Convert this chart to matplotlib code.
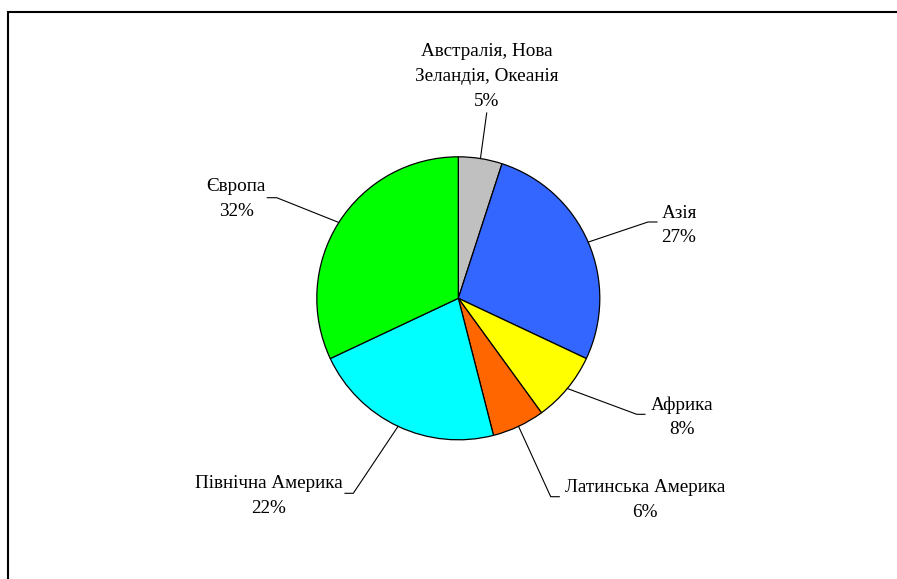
import numpy as np
import matplotlib.pyplot as plt
from matplotlib.patches import Rectangle

# data
regions = [["Австралія, Нова", "Зеландія, Океанія"], ["Азія"], ["Африка"],
           ["Латинська Америка"], ["Північна Америка"], ["Європа"]]
shares = [5, 27, 8, 6, 22, 32]
colors = ["#C0C0C0", "#3366FF", "#FFFF00", "#FF6600", "#00FFFF", "#00FF00"]

W, H = 897, 579
fig = plt.figure(figsize=(W / 100, H / 100), dpi=100)
ax = fig.add_axes([0, 0, 1, 1])

cx, cy, r = 458.3, H - 298.3, 141.5
wedges, _ = ax.pie(shares, colors=colors, startangle=90, counterclock=False,
                   center=(cx, cy), radius=r,
                   wedgeprops=dict(edgecolor="black", linewidth=0.9))
ax.set_xlim(0, W)
ax.set_ylim(0, H)
ax.set_aspect("auto")
ax.axis("off")

# label layout (pixels from top-left): text centre x, first line y, elbow, tail end
lab_x = [487, 679, 682, 645, 269, 236]
lab_y = [50, 211.5, 403.5, 486, 482, 185]
step = 25
elbow = [(486.7, 113), (648, 222), (636.7, 414.3), (550.7, 496.7), (353.3, 493.3), (276.7, 197.7)]
tail = [None, (657, 222), (645, 414.3), (559.3, 496.7), (345, 493.3), (267.3, 197.7)]

for i, w in enumerate(wedges):
    ang = np.deg2rad((w.theta1 + w.theta2) / 2)
    ex, ey = cx + r * np.cos(ang), cy + r * np.sin(ang)
    xs = [ex, elbow[i][0]]
    ys = [ey, H - elbow[i][1]]
    if tail[i] is not None:
        xs.append(tail[i][0])
        ys.append(H - tail[i][1])
    ax.plot(xs, ys, color="black", linewidth=0.8)
    lines = regions[i] + [str(shares[i]) + "%"]
    for j, s in enumerate(lines):
        ax.text(lab_x[i], H - (lab_y[i] + j * step) - 1.5, s, ha="center",
                va="center", family="Liberation Serif", fontsize=13.8)

ax.add_patch(Rectangle((8, -5), W, H - 12 + 5, fill=False,
                       edgecolor="black", linewidth=1.5, clip_on=False))

fig.savefig("out.png", dpi=100)
